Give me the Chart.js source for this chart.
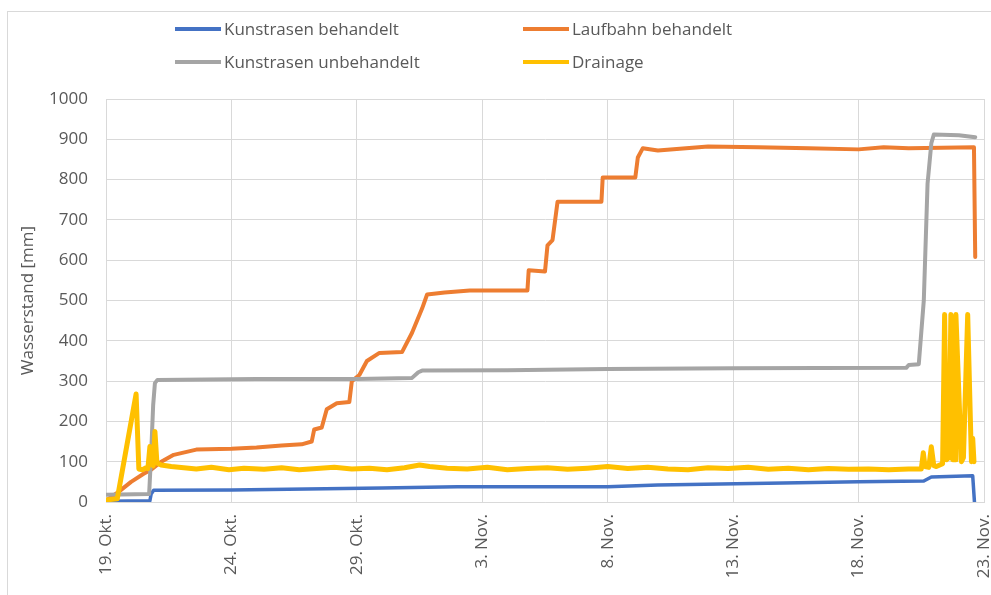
<!DOCTYPE html>
<html>
<head>
<meta charset="utf-8">
<script src="https://cdn.jsdelivr.net/npm/chart.js@4.4.0/dist/chart.umd.min.js"></script>
<style>
  body { margin: 0; background: #fff; font-family: 'Open Sans', sans-serif; }
  #wrap { position: relative; width: 991px; height: 595px; overflow: hidden; }
  #frame { position: absolute; left: 7px; top: 11px; width: 1100px; height: 700px;
           border-left: 1px solid #d9d9d9; border-top: 1px solid #d9d9d9; }
  canvas { position: absolute; left: 0; top: 0; }
  .leg { position: absolute; height: 24px; line-height: 24px; font-size: 17px; color: #595959; white-space: nowrap; }
  .leg span { display: inline-block; width: 46px; height: 4px; vertical-align: middle; margin-right: 3px; position: relative; top: -1px; }
</style>
</head>
<body>
<div id="wrap">
  <div id="frame"></div>
  <canvas id="myChart" width="991" height="595"></canvas>
  <div class="leg" style="left:175px; top:17px"><span style="background:#4472C4"></span>Kunstrasen behandelt</div>
  <div class="leg" style="left:523px; top:17px"><span style="background:#ED7D31"></span>Laufbahn behandelt</div>
  <div class="leg" style="left:175px; top:50px"><span style="background:#A5A5A5"></span>Kunstrasen unbehandelt</div>
  <div class="leg" style="left:523px; top:50px"><span style="background:#FFC000"></span>Drainage</div>
</div>
<script>
// x values are days after 19. Okt.
const tickLabels = ['19. Okt.', '24. Okt.', '29. Okt.', '3. Nov.', '8. Nov.', '13. Nov.', '18. Nov.', '23. Nov.'];

const kunstBehDays = [0, 1.75, 1.8, 1.9, 5, 6.5, 11, 14, 20, 22, 27, 30, 32.6, 32.9, 34.55, 34.62];
const kunstBehVals = [2, 3, 20, 29, 30, 31, 35, 38, 38, 42, 47, 50, 52, 62, 65, 0];

const laufDays = [0, 0.5, 1.0, 1.5, 1.8, 2.2, 2.7, 3.6, 5.0, 6.0, 7.0, 7.8, 8.2, 8.3, 8.6, 8.8, 9.2, 9.7, 9.8, 10.1, 10.4, 10.9, 11.8, 12.2, 12.6, 12.8, 13.5, 14.5, 16.8, 16.85, 17.5, 17.6, 17.8, 18.0, 19.75, 19.8, 21.1, 21.2, 21.4, 22, 24, 26, 28, 30, 31, 32, 34.6, 34.65];
const laufVals = [3, 25, 50, 70, 80, 100, 117, 130, 132, 135, 140, 143, 150, 180, 185, 230, 245, 248, 300, 315, 350, 370, 372, 420, 480, 515, 520, 525, 525, 575, 572, 637, 650, 745, 745, 805, 805, 855, 878, 872, 882, 880, 878, 875, 880, 878, 880, 608];

const kunstUnbDays = [0, 1.72, 1.8, 1.88, 1.95, 2.05, 6, 10, 12.2, 12.45, 12.6, 16, 20, 25, 31.9, 32.0, 32.4, 32.6, 32.75, 32.9, 33.0, 34.0, 34.65];
const kunstUnbVals = [18, 20, 120, 240, 295, 303, 305, 305, 308, 322, 326, 327, 330, 332, 333, 340, 342, 500, 790, 890, 912, 910, 905];

const drainDays = [0, 0.45, 1.2, 1.31, 1.45, 1.6, 1.67, 1.75, 1.8, 1.88, 1.95, 2.03, 2.2, 2.6, 3.1, 3.6, 4.2, 4.9, 5.5, 6.3, 7.0, 7.7, 8.4, 9.1, 9.8, 10.5, 11.2, 11.9, 12.5, 12.9, 13.6, 14.4, 15.2, 16.0, 16.8, 17.6, 18.4, 19.2, 20.0, 20.8, 21.6, 22.4, 23.2, 24.0, 24.8, 25.6, 26.4, 27.2, 28.0, 28.8, 29.6, 30.4, 31.2, 32.0, 32.5, 32.58, 32.65, 32.8, 32.9, 33.0, 33.1, 33.35, 33.43, 33.5, 33.6, 33.68, 33.75, 33.85, 33.88, 34.1, 34.18, 34.35, 34.5, 34.55, 34.6];
const drainVals = [5, 8, 268, 82, 80, 85, 83, 138, 95, 90, 175, 97, 92, 88, 85, 82, 86, 80, 84, 81, 85, 80, 83, 86, 82, 84, 80, 85, 92, 88, 84, 82, 86, 80, 83, 85, 81, 84, 88, 83, 86, 82, 80, 85, 83, 86, 81, 84, 80, 83, 81, 82, 80, 82, 82, 122, 88, 86, 137, 90, 88, 95, 465, 105, 110, 465, 105, 105, 465, 100, 110, 465, 100, 158, 100];

const toPoints = (days, vals) => days.map((d, i) => ({ x: d, y: vals[i] }));

const textColor = '#595959';
const gridColor = '#d9d9d9';
const tickFont = { family: "'Open Sans', sans-serif", size: 17 };

const series = [
  { label: 'Kunstrasen behandelt', data: toPoints(kunstBehDays, kunstBehVals), borderColor: '#4472C4', borderWidth: 3.5, order: 3 },
  { label: 'Laufbahn behandelt', data: toPoints(laufDays, laufVals), borderColor: '#ED7D31', borderWidth: 4, order: 2 },
  { label: 'Kunstrasen unbehandelt', data: toPoints(kunstUnbDays, kunstUnbVals), borderColor: '#A5A5A5', borderWidth: 4, order: 1 },
  { label: 'Drainage', data: toPoints(drainDays, drainVals), borderColor: '#FFC000', borderWidth: 5, order: 0 },
];

const ctx = document.getElementById('myChart').getContext('2d');
new Chart(ctx, {
  type: 'line',
  data: { datasets: series },
  options: {
    responsive: false,
    animation: false,
    layout: { padding: { top: 99, right: 7, left: 0, bottom: 0 } },
    plugins: { legend: { display: false }, tooltip: { enabled: false } },
    elements: {
      point: { radius: 0 },
      line: { tension: 0, borderJoinStyle: 'round', borderCapStyle: 'round', fill: false }
    },
    scales: {
      x: {
        type: 'linear', min: 0, max: 35,
        ticks: {
          stepSize: 5, autoSkip: false, minRotation: 90, maxRotation: 90,
          color: textColor, font: tickFont, padding: 12,
          callback: (v) => tickLabels[Math.round(v / 5)]
        },
        grid: { color: gridColor, drawTicks: false },
        border: { color: gridColor },
        afterFit: (s) => { s.height = 93; s.paddingLeft = 0; s.paddingRight = 0; }
      },
      y: {
        min: 0, max: 1000,
        ticks: { stepSize: 100, color: textColor, font: tickFont, padding: 18, callback: (v) => String(v) },
        grid: { color: gridColor, drawTicks: false },
        border: { color: gridColor },
        title: { display: true, text: 'Wasserstand [mm]', color: textColor, font: tickFont, padding: { top: 18, bottom: 0 } },
        afterFit: (s) => { s.width = 106; s.paddingTop = 0; s.paddingBottom = 0; }
      }
    }
  }
});
</script>
</body>
</html>
